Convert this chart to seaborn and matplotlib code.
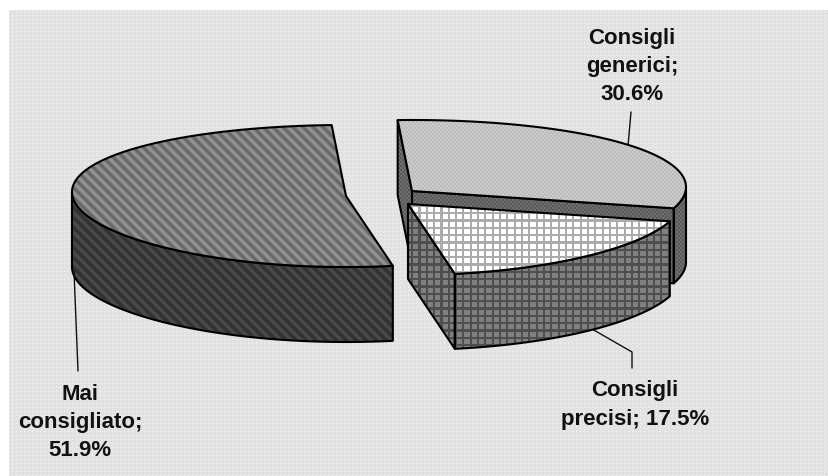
import numpy as np
import matplotlib
matplotlib.use("Agg")
import matplotlib.pyplot as plt
from matplotlib.patches import Polygon
import pandas as pd
import seaborn as sns

# Survey shares, clockwise from the top of the pie
categories = ["Consigli generici", "Consigli precisi", "Mai consigliato"]
shares = [30.6, 17.5, 51.9]
label_texts = ["Consigli\ngenerici;\n30.6%", "Consigli\nprecisi; 17.5%", "Mai\nconsigliato;\n51.9%"]

# Projection of the tilted disc on the canvas (pixels)
START_ANGLE = -3.0
RX, RY, DEPTH, BULGE = 274.0, 71.0, 75.0, 4.0
centres = {"Consigli generici": (412, 192), "Consigli precisi": (408, 205), "Mai consigliato": (346, 197)}
W, H = 829, 477

sns.set_theme(style="white")
plt.rcParams["font.family"] = ["Liberation Sans", "DejaVu Sans"]

fig = plt.figure(figsize=(W / 100, H / 100), dpi=100, facecolor="white")
ax = fig.add_axes([0, 0, 1, 1])
yy, xx = np.mgrid[0:H, 0:W]


def checker(light, dark, period=4):
    return np.where(((xx // (period // 2)) + (yy // (period // 2))) % 2 == 0, light, dark)


def stripes(light, dark, period=10):
    wave = 0.5 + 0.5 * np.cos(2 * np.pi * (xx - yy) / period)
    return dark + (light - dark) * wave


def grid(cell, line, period=7.33, width=2.2):
    on = (xx % period < width) | (yy % period < width)
    return np.where(on, line, cell)


def paper():
    base = checker(222, 230)
    dots = (xx % 4 == 0) & (yy % 4 == 0)
    return np.where(dots, 244, base)


def fill(points, texture, lw=1.5, z=1):
    poly = Polygon(points, closed=True, facecolor="none", edgecolor="black",
                   linewidth=lw, joinstyle="round", zorder=z + 0.5)
    ax.add_patch(poly)
    im = ax.imshow(texture, cmap="gray", vmin=0, vmax=255, extent=(0, W, H, 0),
                   interpolation="nearest", aspect="auto", zorder=z)
    im.set_clip_path(poly)


def rim(centre, a0, a1, drop=0.0):
    t = np.radians(np.linspace(a0, a1, 160))
    x = centre[0] + RX * np.sin(t)
    y = centre[1] - RY * np.cos(t) - BULGE * np.sin(t) ** 2 + drop
    return np.column_stack([x, y])


def band(centre, a0, a1):
    return np.vstack([rim(centre, a0, a1), rim(centre, a0, a1, DEPTH)[::-1]])


def cut(centre, angle):
    p = rim(centre, angle, angle)[0]
    c = np.array(centre, float)
    d = np.array([0, DEPTH])
    return np.array([p, c, c + d, p + d])


# Slice boundaries derived from the shares
edges = START_ANGLE + np.cumsum([0] + shares) * 3.6
spans = {name: (edges[i], edges[i + 1]) for i, name in enumerate(categories)}

# Plot area background
bg = Polygon([(9, 11), (W, 11), (W, H), (9, H)], closed=True, facecolor="none", edgecolor="none")
ax.add_patch(bg)
bg_im = ax.imshow(paper(), cmap="gray", vmin=0, vmax=255, extent=(0, W, H, 0),
                  interpolation="nearest", aspect="auto", zorder=0)
bg_im.set_clip_path(bg)

# Largest slice: only the front of its wall faces the viewer
name = "Mai consigliato"
c = centres[name]
a0, a1 = spans[name]
fill(band(c, a0, 270), stripes(76, 48), z=1)
fill(np.vstack([[c], rim(c, a0, a1)]), stripes(150, 100), z=2)

# Generic advice slice
name = "Consigli generici"
c = centres[name]
a0, a1 = spans[name]
side = checker(112, 88)
fill(cut(c, a0), side, z=3)
fill(cut(c, a1), side, z=3)
fill(band(c, 90, a1), side, z=3)
fill(np.vstack([[c], rim(c, a0, a1)]), checker(205, 186), z=4)

# Precise advice slice, in front of the generic one
name = "Consigli precisi"
c = centres[name]
a0, a1 = spans[name]
wall = grid(128, 78)
fill(cut(c, a1), wall, z=5)
fill(band(c, a0, a1), wall, z=5)
fill(np.vstack([[c], rim(c, a0, a1)]), grid(255, 172), z=6)

# Leader lines from slices to their labels
leaders = [
    pd.DataFrame({"x": [631, 628], "y": [113, 147]}),
    pd.DataFrame({"x": [592, 632, 632], "y": [330, 353, 369]}),
    pd.DataFrame({"x": [74, 78], "y": [272, 372]}),
]
for frame in leaders:
    sns.lineplot(data=frame, x="x", y="y", sort=False, estimator=None, color="#111111",
                 linewidth=1.0, ax=ax, zorder=1.7)

# Category labels
text_style = dict(ha="center", va="center", fontsize=16, fontweight="bold",
                  color="#111111", linespacing=1.45, zorder=9)
ax.text(632, 66.5, label_texts[0], **text_style)
ax.text(635, 405, label_texts[1], **text_style)
ax.text(80, 422.5, label_texts[2], **text_style)

ax.set_xlim(0, W)
ax.set_ylim(H, 0)
ax.set_axis_off()
fig.savefig("out.png", dpi=100, facecolor="white")
